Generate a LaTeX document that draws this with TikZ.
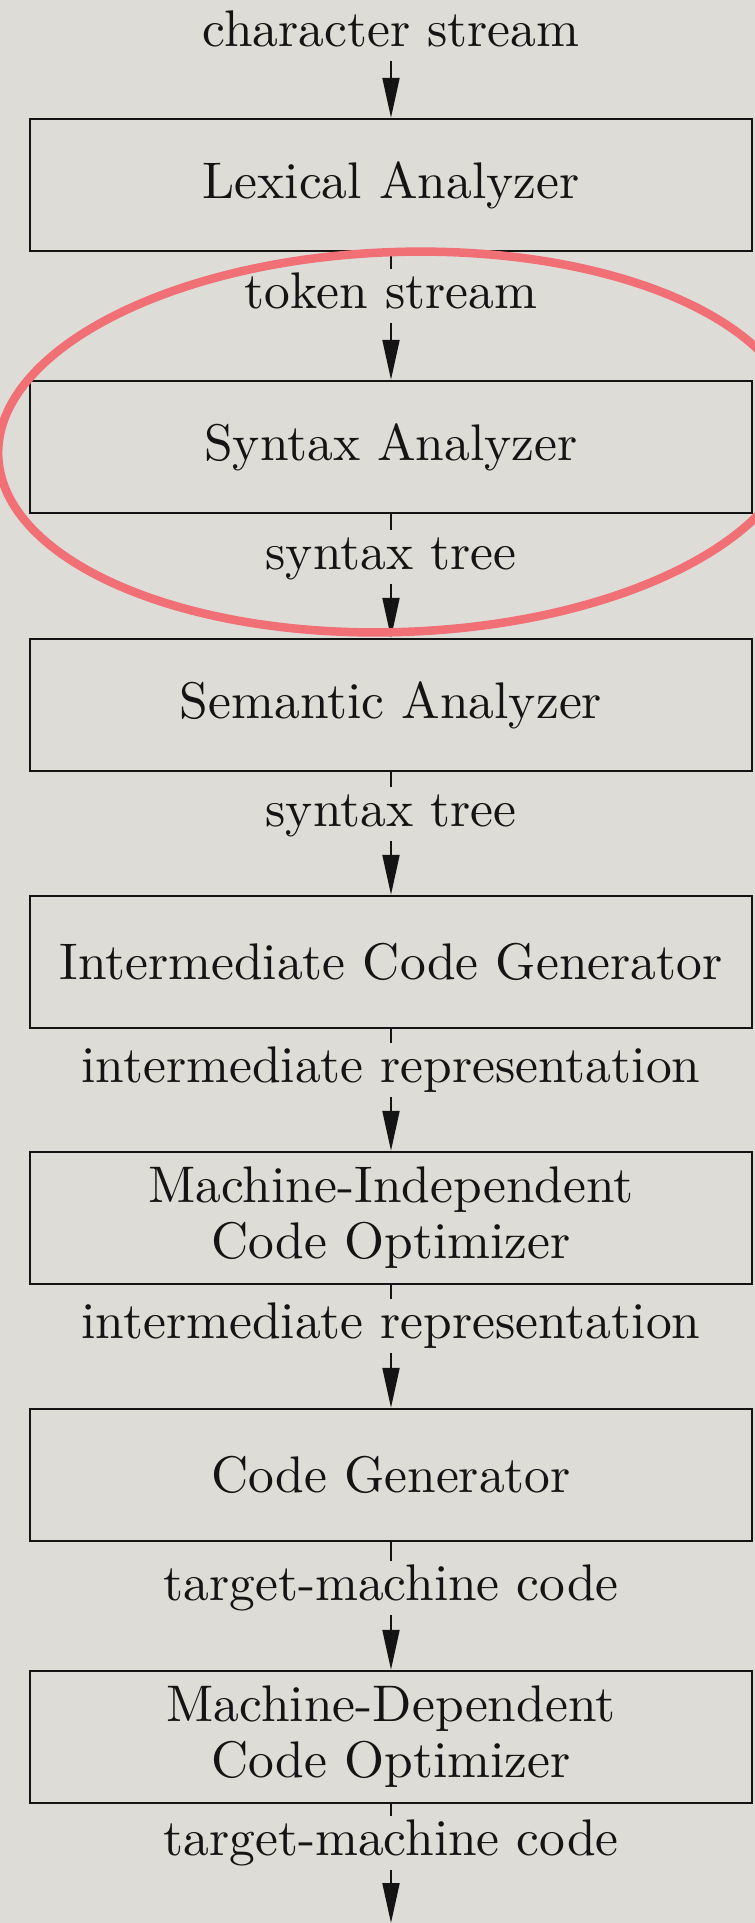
\documentclass[tikz,border=0pt]{standalone}
\usetikzlibrary{arrows.meta}

\definecolor{paper}{RGB}{222,220,215}
\definecolor{ink}{RGB}{20,20,20}
\definecolor{marker}{RGB}{240,112,118}

\tikzset{
  phase/.style={draw=ink, line width=0.5pt, minimum width=144.4pt, minimum height=26.4pt,
    inner sep=0pt, align=center, text=ink, font=\fontsize{10.3}{11.2}\selectfont},
  stream/.style={text=ink, font=\fontsize{10.3}{11.2}\selectfont, text height=6.94pt,
    text depth=1.94pt, inner xsep=0pt, inner ysep=0.9pt, outer sep=0pt},
  tick/.style={draw=ink, line width=0.4pt},
  flow/.style={draw=ink, line width=0.4pt, -{Triangle[length=8pt,width=3.4pt]}}
}

\begin{document}
\begin{tikzpicture}[x=0.2pt, y=-0.2pt]

  \pgfmathsetmacro{\xmid}{391}
  \pgfmathsetmacro{\ybottom}{1923}

  \fill[paper] (0,0) rectangle (755,\ybottom);
  \useasboundingbox (0,0) rectangle (755,\ybottom);

  % Phases
  \foreach \i/\y/\txt in {1/185/Lexical Analyzer, 2/447/Syntax Analyzer,
    3/705/Semantic Analyzer, 4/962/Intermediate Code Generator,
    5/1218/{Machine-Independent\\Code Optimizer}, 6/1475/Code Generator,
    7/1737/{Machine-Dependent\\Code Optimizer}}
  {
    \node[phase] (phase\i) at (\xmid,\y) {\txt};
  }

  % What flows between the phases
  \foreach \i/\y/\txt in {0/34/character stream, 1/296/token stream,
    2/557/syntax tree, 3/814/syntax tree, 4/1070/intermediate representation,
    5/1326/intermediate representation, 6/1588/target-machine code,
    7/1843/target-machine code}
  {
    \node[stream] (stream\i) at (\xmid,\y) {\txt};
  }
  \coordinate (out) at (\xmid,\ybottom);

  % Connectors
  \foreach \i in {1,...,7}{
    \draw[tick] (phase\i) -- (stream\i); % Tick below box
  }
  \foreach \i [count=\j from 1] in {0,...,6}{
    \draw[flow] (stream\i) -- (phase\j); % Arrow into box
  }
  \draw[flow] (stream7) -- (out);

  % Hand-drawn ring round the parser
  \draw[marker, line width=1.7pt, rotate around={2:(398,442)}] (398,442)
    ellipse [x radius=80pt, y radius=38pt];

\end{tikzpicture}
\end{document}
